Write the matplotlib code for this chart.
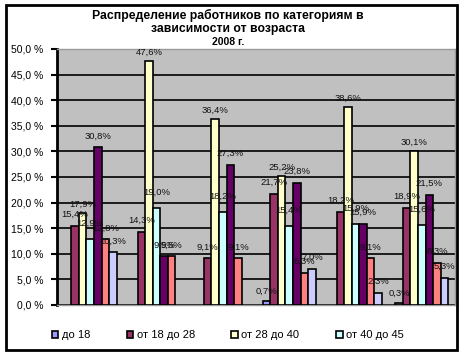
import matplotlib
matplotlib.use("Agg")
import matplotlib.pyplot as plt
import numpy as np
from matplotlib.patches import Rectangle, Patch

plt.rcParams['font.family'] = ['Liberation Sans', 'DejaVu Sans']

categories = ["1", "2", "3", "4", "5", "6"]
series_names = ["до 18", "от 18 до 28", "от 28 до 40", "от 40 до 45",
                "серия 5", "серия 6", "серия 7"]
s_do18 = [0.0, 0.0, 0.0, 0.7, 0.0, 0.3]
s_18_28 = [15.4, 14.3, 9.1, 21.7, 18.2, 18.9]
s_28_40 = [17.9, 47.6, 36.4, 25.2, 38.6, 30.1]
s_40_45 = [12.9, 19.0, 18.2, 15.4, 15.9, 15.6]
s_5 = [30.8, 9.5, 27.3, 23.8, 15.9, 21.5]
s_6 = [12.8, 9.5, 9.1, 6.3, 9.1, 8.3]
s_7 = [10.3, 0.0, 0.0, 7.0, 2.3, 5.3]
yticks = [0, 5, 10, 15, 20, 25, 30, 35, 40, 45, 50]
ytick_labels = ["0,0 %", "5,0 %", "10,0 %", "15,0 %", "20,0 %", "25,0 %",
                "30,0 %", "35,0 %", "40,0 %", "45,0 %", "50,0 %"]
title = "Распределение работников по категориям в\nзависимости от возраста"
subtitle = "2008 г."

series = [s_do18, s_18_28, s_28_40, s_40_45, s_5, s_6, s_7]
colors = ["#9999FF", "#993366", "#FFFFCC", "#CCFFFF", "#660066", "#FF8080", "#CCCCFF"]
label_offsets = [4, 5, 3, 8, 5, 5, 5]

fig = plt.figure(figsize=(4.6, 3.54), dpi=100)
ax = fig.add_axes([57/460, 1-305/354, (455-57)/460, (305-49)/354])
ax.set_facecolor("#C0C0C0")

n = len(series)
x = np.arange(len(categories))
bw = 0.8 / n
for i, (vals, c) in enumerate(zip(series, colors)):
    vals = np.array(vals)
    pos = x - 0.4 + bw * (i + 0.5)
    lws = [1.2 if v > 0 else 0 for v in vals]
    ax.bar(pos, vals, width=bw, color=c, edgecolor="black", linewidth=lws, zorder=3)
    for p, v in zip(pos, vals):
        if v > 0:
            ax.annotate(f"{v:.1f}%".replace(".", ","), (p, v), xytext=(0, label_offsets[i]),
                        textcoords="offset points", ha="center", va="bottom",
                        fontsize=6.8, color="#111111", zorder=4)

ax.set_xlim(-0.5, len(categories) - 0.5)
ax.set_ylim(0, 50)
ax.set_yticks(yticks)
ax.set_yticklabels(ytick_labels, fontsize=7.5)
ax.set_xticks([])
ax.yaxis.grid(True, color="black", linewidth=1.2, zorder=1)
ax.tick_params(axis="y", direction="out", length=4, width=1.5, pad=6)
ax.spines["left"].set_linewidth(2)
for s in ["top", "right", "bottom"]:
    ax.spines[s].set_color("#999999")
    ax.spines[s].set_linewidth(1)

fig.text(0.495, 1-22/354, title, ha="center", va="center", fontsize=8.8,
         fontweight="bold", linespacing=1.1)
fig.text(0.495, 1-42/354, subtitle, ha="center", va="center", fontsize=7.5,
         fontweight="bold")

handles = [Patch(facecolor=colors[i], edgecolor="black", linewidth=1.2) for i in range(4)]
fig.legend(handles, series_names[:4], loc="center", bbox_to_anchor=(0.495, 1-335/354),
           ncol=4, frameon=False, fontsize=8, handlelength=0.6, handleheight=0.6,
           handletextpad=0.3, columnspacing=3.3)

fig.patches.append(Rectangle((6/460, 4/354), 451/460, 345/354, transform=fig.transFigure,
                             fill=False, edgecolor="black", linewidth=2))

fig.savefig("out.png", dpi=100)
